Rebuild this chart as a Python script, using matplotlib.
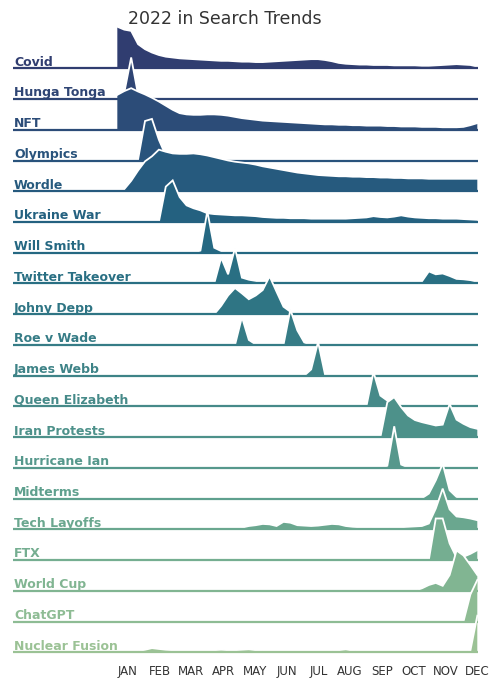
import numpy as np
import matplotlib
matplotlib.use("Agg")
import matplotlib.pyplot as plt
import matplotlib.transforms as mtransforms
import seaborn as sns

# ---------------- data (weekly search interest, 0-100) ----------------
weeks = list(range(53))
topics = ["Covid", "Hunga Tonga", "NFT", "Olympics", "Wordle", "Ukraine War",
          "Will Smith", "Twitter Takeover", "Johny Depp", "Roe v Wade",
          "James Webb", "Queen Elizabeth", "Iran Protests", "Hurricane Ian",
          "Midterms", "Tech Layoffs", "FTX", "World Cup", "ChatGPT",
          "Nuclear Fusion"]
months = ["JAN", "FEB", "MAR", "APR", "MAY", "JUN", "JUL", "AUG", "SEP",
          "OCT", "NOV", "DEC"]

covid = [100, 93, 90, 58, 46, 38, 32, 28, 26, 24, 23, 22, 21, 20, 19, 18, 18,
         17, 16, 16, 15, 15, 16, 17, 18, 19, 20, 21, 22, 22, 20, 17, 13, 11,
         10, 9, 9, 8, 8, 8, 7, 7, 7, 7, 6, 6, 7, 8, 9, 10, 9, 8, 4]
hunga_tonga = [0, 15, 100, 10, 0, 0, 0, 0, 0, 0, 0, 0, 0, 0, 0, 0, 0, 0, 0,
               0, 0, 0, 0, 0, 0, 0, 0, 0, 0, 0, 0, 0, 0, 0, 0, 0, 0, 0, 0, 0,
               0, 0, 0, 0, 0, 0, 0, 0, 0, 0, 0, 0, 0]
nft = [84, 93, 100, 92, 85, 77, 68, 58, 48, 40, 37, 36, 36, 37, 37, 36, 34,
       31, 28, 26, 24, 22, 21, 20, 19, 18, 17, 16, 15, 14, 13, 13, 12, 12, 11,
       11, 10, 10, 10, 9, 9, 8, 8, 8, 7, 7, 7, 6, 6, 6, 7, 11, 16]
olympics = [2, 2, 2, 3, 95, 100, 50, 12, 4, 2, 1, 1, 1, 1, 0, 0, 0, 0, 0, 0,
            0, 0, 0, 0, 0, 0, 0, 0, 0, 0, 0, 1, 2, 1, 0, 0, 0, 0, 0, 0, 0, 0,
            0, 0, 0, 0, 0, 0, 0, 0, 0, 0, 0]
wordle = [0, 5, 25, 50, 72, 84, 100, 95, 91, 90, 90, 91, 89, 86, 82, 78, 74,
          71, 69, 67, 64, 60, 57, 54, 51, 48, 45, 43, 41, 39, 38, 37, 36, 36,
          35, 35, 34, 34, 33, 33, 32, 32, 31, 31, 31, 30, 30, 30, 30, 30, 30,
          30, 30]
ukraine_war = [0, 0, 0, 0, 0, 0, 0, 85, 100, 60, 40, 33, 28, 21, 19, 18, 17,
               16, 16, 15, 14, 12, 11, 10, 10, 9, 9, 9, 8, 8, 8, 8, 8, 8, 9,
               10, 11, 14, 12, 11, 13, 16, 13, 11, 10, 9, 9, 8, 8, 8, 7, 6, 5]
will_smith = [0, 0, 0, 0, 0, 0, 0, 0, 0, 0, 0, 0, 5, 100, 12, 4, 1, 0, 0, 0,
              0, 0, 0, 0, 0, 0, 0, 0, 0, 0, 0, 0, 0, 0, 0, 0, 0, 0, 0, 0, 0,
              0, 0, 0, 0, 0, 0, 0, 0, 0, 0, 0, 0]
twitter_takeover = [0, 0, 0, 0, 1, 0, 0, 0, 0, 0, 0, 0, 0, 0, 0, 62, 22, 85,
                    14, 9, 6, 2, 3, 4, 4, 3, 4, 5, 4, 1, 0, 0, 0, 0, 0, 0, 0,
                    0, 2, 0, 0, 0, 0, 0, 5, 29, 22, 24, 18, 11, 10, 8, 4]
johny_depp = [0, 0, 0, 0, 0, 0, 0, 0, 0, 0, 0, 0, 0, 0, 0, 20, 45, 63, 50,
              36, 45, 58, 91, 54, 18, 6, 3, 2, 1, 0, 0, 0, 0, 0, 0, 0, 0, 0,
              0, 0, 0, 0, 0, 0, 0, 0, 0, 0, 0, 0, 0, 0, 0]
roe_v_wade = [0, 0, 0, 0, 0, 0, 0, 0, 0, 0, 0, 0, 0, 0, 0, 0, 0, 0, 67, 12,
              1, 0, 0, 0, 0, 85, 35, 6, 0, 0, 0, 0, 0, 0, 0, 0, 0, 0, 0, 0,
              0, 0, 0, 0, 0, 0, 0, 0, 0, 0, 0, 0, 0]
james_webb = [0, 0, 0, 0, 0, 0, 0, 0, 0, 0, 0, 0, 0, 0, 0, 0, 0, 0, 0, 0, 0,
              0, 0, 0, 0, 0, 0, 0, 15, 81, 3, 0, 0, 0, 0, 0, 0, 0, 0, 0, 0,
              0, 0, 0, 0, 0, 0, 0, 0, 0, 0, 0, 0]
queen_elizabeth = [0, 0, 0, 0, 0, 0, 0, 0, 2, 0, 0, 0, 0, 0, 0, 0, 0, 0, 0,
                   0, 0, 0, 0, 0, 0, 0, 0, 0, 0, 0, 0, 0, 0, 0, 0, 0, 2, 83,
                   26, 14, 6, 2, 1, 0, 0, 0, 0, 0, 0, 0, 0, 0, 0]
iran_protests = [0, 0, 0, 0, 0, 0, 0, 0, 0, 0, 0, 0, 0, 0, 0, 0, 0, 0, 0, 0,
                 0, 0, 0, 0, 0, 0, 0, 0, 0, 0, 0, 0, 0, 0, 0, 0, 0, 0, 0, 84,
                 96, 72, 52, 41, 36, 32, 28, 30, 80, 42, 32, 24, 20]
hurricane_ian = [0, 0, 0, 0, 0, 0, 0, 0, 0, 0, 0, 0, 0, 0, 0, 0, 0, 0, 0, 0,
                 0, 0, 0, 0, 0, 0, 0, 0, 0, 0, 0, 0, 0, 0, 0, 0, 0, 0, 0, 5,
                 100, 8, 1, 0, 0, 0, 0, 0, 0, 0, 0, 0, 0]
midterms = [0, 0, 0, 0, 0, 0, 0, 0, 0, 0, 0, 0, 0, 0, 0, 0, 0, 0, 0, 0, 0, 0,
            0, 0, 0, 0, 0, 0, 0, 0, 0, 0, 0, 0, 0, 0, 0, 0, 0, 0, 0, 0, 0, 0,
            1, 12, 44, 84, 20, 4, 0, 0, 0]
tech_layoffs = [0, 0, 0, 0, 0, 0, 0, 0, 0, 0, 0, 0, 0, 0, 0, 0, 0, 0, 4, 8,
                10, 13, 12, 8, 18, 16, 10, 9, 8, 9, 11, 13, 12, 8, 6, 5, 4, 3,
                2, 3, 4, 5, 6, 7, 8, 14, 50, 98, 48, 31, 29, 26, 22]
ftx = [1, 1, 1, 2, 1, 1, 1, 1, 1, 1, 1, 1, 1, 1, 1, 1, 1, 1, 2, 3, 1, 1, 1,
       1, 1, 1, 1, 1, 1, 1, 1, 1, 1, 1, 1, 1, 1, 1, 1, 1, 1, 1, 1, 1, 1, 1,
       100, 100, 40, 6, 8, 15, 24]
world_cup = [0, 0, 0, 0, 0, 0, 0, 0, 0, 0, 0, 0, 1, 0, 0, 0, 0, 0, 0, 0, 0,
             0, 0, 0, 0, 0, 0, 0, 0, 0, 0, 0, 0, 0, 0, 0, 0, 0, 0, 0, 0, 0,
             0, 0, 6, 14, 19, 12, 38, 97, 85, 62, 38]
chatgpt = [0, 0, 0, 0, 0, 0, 0, 0, 0, 0, 0, 0, 0, 0, 0, 0, 0, 0, 0, 0, 0, 0,
           0, 0, 0, 0, 0, 0, 0, 0, 0, 0, 0, 0, 0, 0, 0, 0, 0, 0, 0, 0, 0, 0,
           0, 0, 0, 0, 0, 0, 0, 65, 100]
nuclear_fusion = [1, 2, 2, 3, 6, 10, 8, 6, 5, 4, 4, 4, 4, 5, 5, 6, 5, 5, 6,
                  7, 5, 3, 3, 2, 2, 2, 2, 2, 2, 2, 2, 3, 5, 7, 4, 2, 2, 2, 2,
                  2, 2, 2, 2, 2, 2, 2, 2, 2, 2, 2, 2, 4, 88]

series = [covid, hunga_tonga, nft, olympics, wordle, ukraine_war, will_smith,
          twitter_takeover, johny_depp, roe_v_wade, james_webb,
          queen_elizabeth, iran_protests, hurricane_ian, midterms,
          tech_layoffs, ftx, world_cup, chatgpt, nuclear_fusion]

# ---------------- figure ----------------
W, H = 495, 680
fig = plt.figure(figsize=(W / 100, H / 100), dpi=100)
ax = fig.add_axes([13 / W, 18.5 / H, 465 / W, 639.3 / H])

colors = sns.color_palette("crest_r", len(topics), desat=0.85)
scale = 1.353 / 100.0
x = np.array(weeks)
label_tf = mtransforms.blended_transform_factory(ax.transAxes, ax.transData)

for i, (name, vals) in enumerate(zip(topics, series)):
    base = -i
    c = colors[i]
    z = 10 + i * 3
    top = base + np.array(vals) * scale
    ax.fill_between(x, base, top, facecolor=c, edgecolor="none", zorder=z,
                    clip_on=False)
    ax.plot(x, top, color="white", lw=1.3, zorder=z + 1, clip_on=False,
            solid_joinstyle="miter")
    ax.axhline(base, color=c, lw=1.6, zorder=z + 2, clip_on=False,
               solid_capstyle="butt")
    ax.text(0.002, base + 0.085, name, transform=label_tf, ha="left",
            va="baseline", fontsize=9, fontweight="bold", color=c,
            zorder=200)

ax.set_xlim(-15.07, 52.1)
ax.set_ylim(-19.3, 1.5)
ax.set_yticks([])
ax.set_xticks(np.linspace(1.5, 52, 12))
ax.set_xticklabels(months, fontsize=8.5, color="#333333")
ax.tick_params(axis="x", length=0, pad=2.2)
for s in ax.spines.values():
    s.set_visible(False)
ax.patch.set_alpha(0)

fig.text(225 / W, 1 - 19 / H, "2022 in Search Trends", ha="center",
         va="center", fontsize=12.5, color="#333333")

fig.savefig("out.png", dpi=100, facecolor="white")
